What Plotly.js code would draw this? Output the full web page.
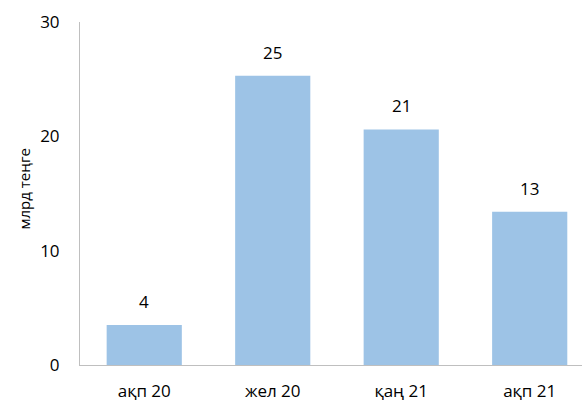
<!DOCTYPE html>
<html>
<head>
<meta charset="utf-8">
<script src="https://cdn.plot.ly/plotly-3.0.1.min.js"></script>
<style>html,body{margin:0;padding:0;background:#fff;}#chart{width:582px;height:401px;}</style>
</head>
<body>
<div id="chart"></div>
<script>
var categories = ["ақп 20", "жел 20", "қаң 21", "ақп 21"];
var values = [3.5, 25.3, 20.6, 13.4];
var yTicks = [0, 10, 20, 30];
var yTitle = "млрд теңге";

var font = "'Open Sans', 'DejaVu Sans', sans-serif";
var trace = {
  type: "bar",
  x: categories,
  y: values,
  width: 0.585,
  marker: {color: "#9DC3E6"},
  hoverinfo: "none"
};
var annotations = categories.map(function (c, i) {
  return {
    x: c, y: values[i], xref: "x", yref: "y",
    text: String(Math.round(values[i])),
    showarrow: false, yanchor: "bottom", yshift: 10,
    font: {family: font, size: 17, color: "#000"}
  };
});
annotations.push({
  xref: "paper", yref: "paper", x: 0, y: 0.5,
  xanchor: "center", yanchor: "middle",
  xshift: -57, yshift: 4,
  textangle: -90, showarrow: false,
  text: yTitle,
  font: {family: font, size: 15, color: "#000"}
});
var layout = {
  width: 582, height: 401,
  margin: {l: 80, r: 0, t: 22, b: 36, pad: 0},
  paper_bgcolor: "#fff", plot_bgcolor: "#fff",
  showlegend: false,
  font: {family: font, size: 16, color: "#000"},
  xaxis: {
    type: "category",
    range: [-0.5, 3.407],
    showline: true, linecolor: "#BFBFBF", linewidth: 1,
    showgrid: false, zeroline: false, ticks: "",
    ticklabelstandoff: 11,
    tickfont: {family: font, size: 17, color: "#000"},
    fixedrange: true
  },
  yaxis: {
    range: [0, 30],
    tickvals: yTicks,
    ticktext: yTicks.map(String),
    showline: true, linecolor: "#BFBFBF", linewidth: 1,
    showgrid: false, zeroline: false, ticks: "",
    ticklabelstandoff: 16,
    tickfont: {family: font, size: 17, color: "#000"},
    fixedrange: true
  },
  annotations: annotations,
  bargap: 0.4
};
Plotly.newPlot("chart", [trace], layout, {displayModeBar: false, staticPlot: true});
</script>
</body>
</html>
